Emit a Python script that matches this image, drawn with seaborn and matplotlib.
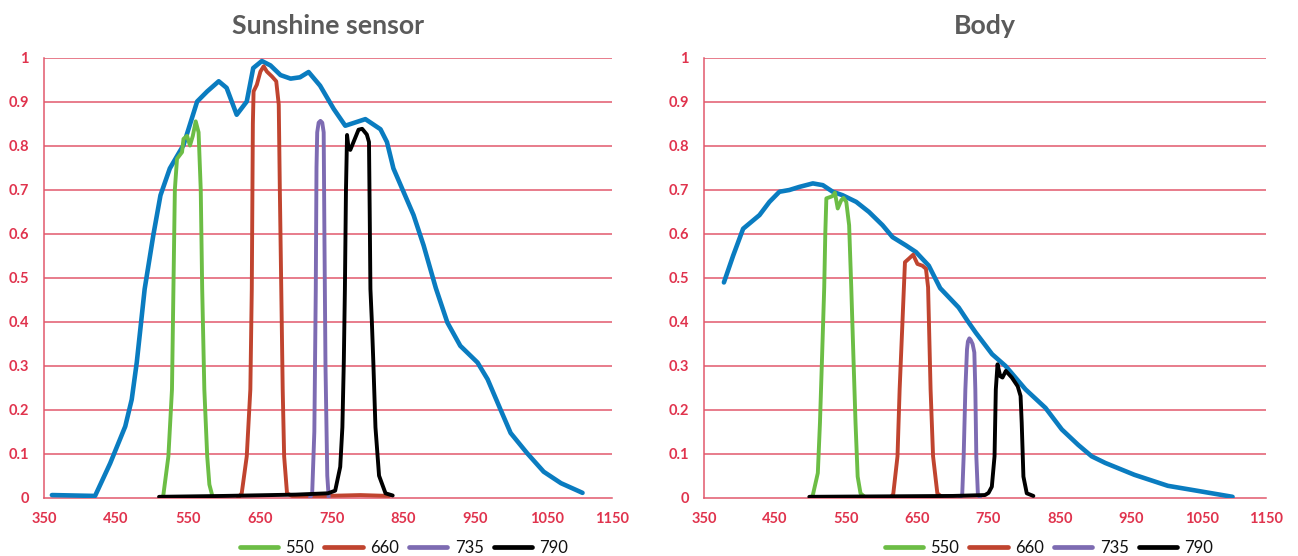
import numpy as np
import pandas as pd
import matplotlib
matplotlib.use("Agg")
import matplotlib.pyplot as plt
import seaborn as sns

# ---------------- data ----------------
PANELS = ["Sunshine sensor", "Body"]
SERIES = ["550", "660", "735", "790"]

# Sunshine sensor
sun_blue_x = [361, 421, 442, 463, 472, 479, 485, 490, 502, 512, 525, 544, 563, 577, 593, 604, 618, 632,
              641, 653, 665, 679, 693, 706, 718, 734, 753, 769, 797, 818, 827, 836, 850, 864, 878, 895,
              911, 929, 953, 967, 985, 999, 1022, 1045, 1069, 1099]
sun_blue_y = [0.006, 0.004, 0.078, 0.162, 0.223, 0.307, 0.398, 0.474, 0.596, 0.687, 0.748, 0.801, 0.900,
              0.923, 0.946, 0.931, 0.870, 0.900, 0.976, 0.992, 0.982, 0.960, 0.952, 0.955, 0.967, 0.936,
              0.883, 0.845, 0.860, 0.837, 0.808, 0.748, 0.695, 0.642, 0.573, 0.476, 0.398, 0.345, 0.307,
              0.269, 0.200, 0.147, 0.101, 0.059, 0.033, 0.011]

sun_550_x = [514, 516, 523, 528, 530, 532, 535, 542, 544, 549, 553, 557, 561, 565, 568, 570, 573, 577, 580, 584]
sun_550_y = [0.0, 0.006, 0.094, 0.246, 0.474, 0.70, 0.77, 0.785, 0.815, 0.822, 0.80, 0.822, 0.855, 0.83,
             0.70, 0.476, 0.246, 0.094, 0.03, 0.005]

sun_660_x = [620, 625, 632, 637, 639, 640.5, 641.5, 646, 651, 655.5, 660, 667, 673, 676.5, 678, 680, 682,
             684, 688, 695, 740, 790, 830]
sun_660_y = [0.0, 0.01, 0.094, 0.246, 0.474, 0.85, 0.923, 0.938, 0.968, 0.98, 0.968, 0.957, 0.946, 0.893,
             0.70, 0.474, 0.246, 0.094, 0.01, 0.004, 0.004, 0.006, 0.004]

sun_735_x = [720, 723, 726, 728, 729, 730, 732, 734.5, 737, 739, 740, 741.5, 744, 746]
sun_735_y = [0.0, 0.01, 0.15, 0.474, 0.75, 0.83, 0.852, 0.856, 0.852, 0.83, 0.6, 0.3, 0.05, 0.0]

sun_790_x = [510, 600, 700, 745, 755, 762, 765, 767, 768.5, 770, 771.5, 773.5, 776, 781, 787.5, 792.5,
             799, 802, 803, 804, 806, 808, 811, 816, 825, 835]
sun_790_y = [0.002, 0.004, 0.007, 0.01, 0.016, 0.07, 0.16, 0.31, 0.474, 0.7, 0.824, 0.795, 0.79, 0.81,
             0.836, 0.838, 0.825, 0.808, 0.65, 0.474, 0.4, 0.31, 0.16, 0.05, 0.01, 0.005]

# Body
body_blue_x = [378, 391, 405, 428, 442, 456, 470, 484, 503, 517, 531, 545, 564, 582, 601, 615, 634, 648,
               666, 682, 708, 722, 732, 755, 774, 802, 830, 853, 876, 895, 914, 955, 1002, 1035, 1093]
body_blue_y = [0.489, 0.550, 0.611, 0.642, 0.672, 0.695, 0.699, 0.706, 0.714, 0.710, 0.695, 0.687, 0.672,
               0.649, 0.619, 0.592, 0.573, 0.558, 0.527, 0.476, 0.432, 0.398, 0.375, 0.326, 0.299, 0.246,
               0.204, 0.155, 0.120, 0.094, 0.079, 0.052, 0.027, 0.018, 0.002]

body_550_x = [500, 503, 510, 513, 516, 519, 520.5, 522, 529, 532, 534, 538, 543, 546, 550, 554, 557, 560,
              563, 566, 570, 575]
body_550_y = [0.0, 0.006, 0.056, 0.17, 0.322, 0.478, 0.60, 0.68, 0.684, 0.687, 0.693, 0.657, 0.676, 0.681,
              0.672, 0.619, 0.478, 0.322, 0.17, 0.048, 0.01, 0.003]

body_660_x = [612, 616, 622, 625, 629, 631, 632.5, 638, 644, 650, 657, 662, 665, 668.5, 672, 678, 684]
body_660_y = [0.0, 0.008, 0.094, 0.246, 0.40, 0.478, 0.535, 0.543, 0.552, 0.531, 0.527, 0.520, 0.478,
              0.246, 0.094, 0.01, 0.002]

body_735_x = [710, 713, 715, 717.4, 719.7, 721, 723, 725, 727.6, 730, 731.4, 732.8, 735, 738]
body_735_y = [0.0, 0.008, 0.094, 0.246, 0.337, 0.355, 0.362, 0.358, 0.349, 0.33, 0.246, 0.094, 0.008, 0.0]

body_790_x = [498, 600, 700, 745, 750, 754.6, 758.4, 760.2, 762.6, 766.4, 769.6, 774.3, 782.7, 791, 795,
              796.6, 799, 803.7, 813]
body_790_y = [0.002, 0.003, 0.004, 0.006, 0.011, 0.025, 0.094, 0.246, 0.303, 0.276, 0.273, 0.288, 0.273,
              0.253, 0.231, 0.17, 0.048, 0.01, 0.004]

Y_TICKS = [0, 0.1, 0.2, 0.3, 0.4, 0.5, 0.6, 0.7, 0.8, 0.9, 1]
Y_TICK_LABELS = ["0", "0.1", "0.2", "0.3", "0.4", "0.5", "0.6", "0.7", "0.8", "0.9", "1"]
X_TICK_LABELS = ["350", "450", "550", "650", "750", "850", "950", "1050", "1150"]

# ---------------- build frames ----------------
def frame(panel, name, xs, ys):
    return pd.DataFrame({"panel": panel, "series": name, "wl": xs, "val": ys})

sun = pd.concat([
    frame(PANELS[0], "sun", sun_blue_x, sun_blue_y),
    frame(PANELS[0], "550", sun_550_x, sun_550_y),
    frame(PANELS[0], "660", sun_660_x, sun_660_y),
    frame(PANELS[0], "735", sun_735_x, sun_735_y),
    frame(PANELS[0], "790", sun_790_x, sun_790_y),
], ignore_index=True)
body = pd.concat([
    frame(PANELS[1], "sun", body_blue_x, body_blue_y),
    frame(PANELS[1], "550", body_550_x, body_550_y),
    frame(PANELS[1], "660", body_660_x, body_660_y),
    frame(PANELS[1], "735", body_735_x, body_735_y),
    frame(PANELS[1], "790", body_790_x, body_790_y),
], ignore_index=True)

# ---------------- style ----------------
sns.set_theme(style="white")
plt.rcParams["font.family"] = ["Lato", "DejaVu Sans"]

COLORS = {"sun": "#0a7cc0", "550": "#6cbd45", "660": "#c0442f", "735": "#7d6bb2", "790": "#000000"}
WIDTHS = {"sun": 3.3, "550": 2.8, "660": 2.8, "735": 2.8, "790": 2.8}
DRAW_ORDER = ["sun", "550", "660", "735", "790"]
GRID_C = "#e2586c"
TICK_C = "#e0334d"
TITLE_C = "#5b5b5b"

X_TICK_POS = [350, 450, 550, 650, 750, 850, 950, 1050, 1140]
XMIN, XMAX = 350, 1140

fig = plt.figure(figsize=(12.98, 5.56), dpi=100)
ax_rects = [[44 / 1298, 1 - 497.7 / 556, (612 - 44) / 1298, (497.7 - 57.5) / 556],
            [704 / 1298, 1 - 497.7 / 556, (1266 - 704) / 1298, (497.7 - 57.5) / 556]]
legend_centers = [404 / 1298, 1049 / 1298]

for i, (df, title) in enumerate([(sun, PANELS[0]), (body, PANELS[1])]):
    ax = fig.add_axes(ax_rects[i])
    for s in DRAW_ORDER:
        d = df[df["series"] == s]
        sns.lineplot(data=d, x="wl", y="val", sort=False, estimator=None, ax=ax,
                     color=COLORS[s], linewidth=WIDTHS[s],
                     solid_joinstyle="round", solid_capstyle="round", legend=False)
    ax.set_xlim(XMIN, XMAX)
    ax.set_ylim(0, 1.0)
    ax.set_xticks(X_TICK_POS)
    ax.set_xticklabels(X_TICK_LABELS)
    ax.set_yticks(Y_TICKS)
    ax.set_yticklabels(Y_TICK_LABELS)
    ax.set_xlabel("")
    ax.set_ylabel("")
    for yv in Y_TICKS[1:]:
        ax.axhline(yv, color=GRID_C, lw=1.1, zorder=0)
    for side in ["top", "right"]:
        ax.spines[side].set_visible(False)
    for side in ["left", "bottom"]:
        ax.spines[side].set_color(GRID_C)
        ax.spines[side].set_linewidth(1.1)
        ax.spines[side].set_zorder(0)
    ax.tick_params(axis="both", colors=GRID_C, length=5, width=1.1, direction="out",
                   labelcolor=TICK_C, labelsize=10.5)
    ax.tick_params(axis="x", pad=5)
    ax.tick_params(axis="y", pad=6)
    for lab in ax.get_xticklabels() + ax.get_yticklabels():
        lab.set_fontweight("bold")
    ax.set_title(title, fontsize=19.3, fontweight="bold", color=TITLE_C, pad=17)
    handles = [plt.Line2D([], [], color=COLORS[s], lw=3.4, solid_capstyle="round") for s in SERIES]
    leg = fig.legend(handles, SERIES, loc="center", bbox_to_anchor=(legend_centers[i], 1 - 548 / 556),
                     ncol=4, frameon=False, fontsize=12, handlelength=2.3, handletextpad=0.45,
                     columnspacing=0.6, borderpad=0, borderaxespad=0)
    for t in leg.get_texts():
        t.set_color("#111111")

fig.savefig("out.png", dpi=100)
